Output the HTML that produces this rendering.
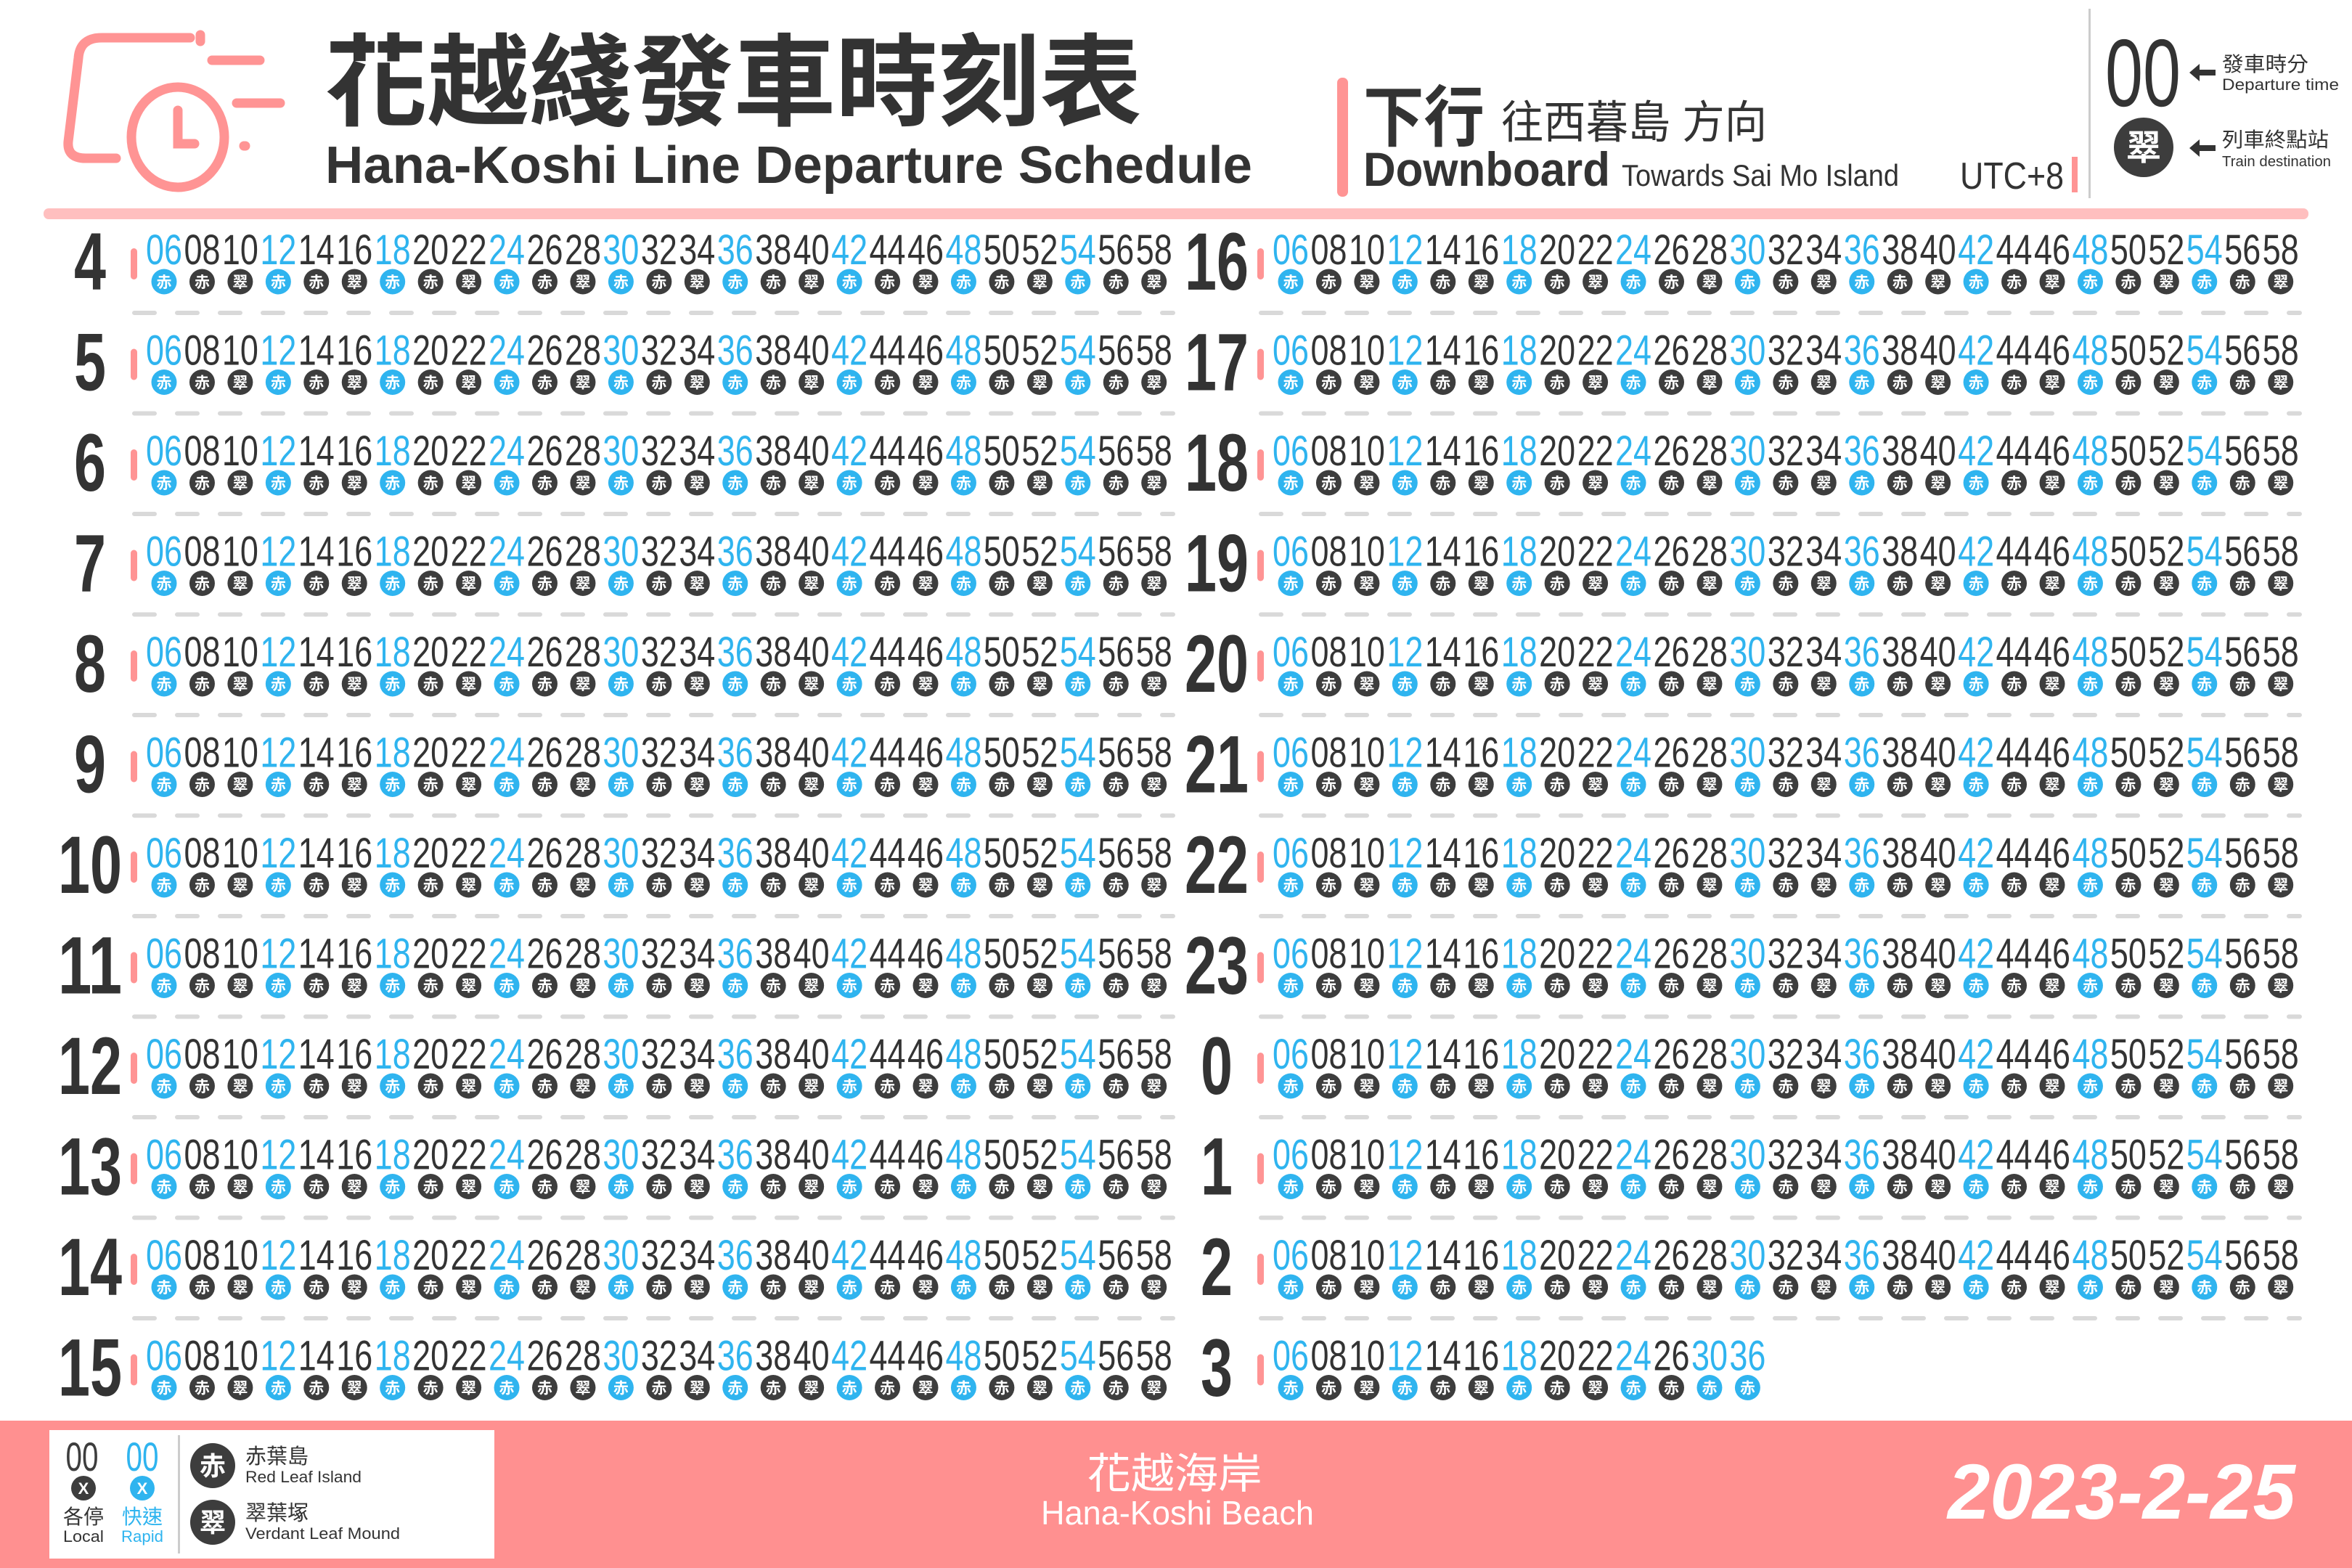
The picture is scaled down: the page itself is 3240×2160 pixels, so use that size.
<!DOCTYPE html>
<html><head><meta charset="utf-8"><style>
html,body{margin:0;padding:0;background:#fff}
svg{display:block}
text{font-family:"Liberation Sans","Noto Sans CJK TC",sans-serif}
</style></head><body>
<svg id="s" width="3240" height="2160" viewBox="0 0 3240 2160" xmlns="http://www.w3.org/2000/svg">
<rect width="3240" height="2160" fill="#fff"/>
<g fill="none" stroke="#ff9494" stroke-width="13" stroke-linecap="round">
<path d="M262 52 L140 52 Q110 52 108 80 L94 195 Q92 218 118 218 L160 218"/>
<line x1="276" y1="48" x2="276" y2="57"/>
<line x1="292" y1="83" x2="358" y2="83"/>
<line x1="326" y1="142" x2="386" y2="142"/>
<line x1="336" y1="201" x2="338" y2="201"/>
<ellipse cx="245" cy="189" rx="64" ry="69"/>
<path d="M245 152 L245 198 L268 198"/>
</g>
<text x="448" y="162" font-size="138" font-weight="bold" fill="#333" textLength="1125" lengthAdjust="spacingAndGlyphs">花越綫發車時刻表</text>
<text x="448" y="252" font-size="72" font-weight="bold" fill="#333" textLength="1277" lengthAdjust="spacingAndGlyphs">Hana-Koshi Line Departure Schedule</text>
<rect x="1842" y="107" width="15" height="164" rx="7" fill="#ff9494"/>
<text x="1878" y="194" font-size="92" font-weight="bold" fill="#333" textLength="167" lengthAdjust="spacingAndGlyphs">下行</text>
<text x="2068" y="190" font-size="62" fill="#333" textLength="366" lengthAdjust="spacingAndGlyphs">往西暮島 方向</text>
<text x="1878" y="256" font-size="66" font-weight="bold" fill="#333" textLength="340" lengthAdjust="spacingAndGlyphs">Downboard</text>
<text x="2234" y="256" font-size="42" fill="#333" textLength="382" lengthAdjust="spacingAndGlyphs">Towards Sai Mo Island</text>
<text x="2700" y="260" font-size="52" fill="#333" textLength="143" lengthAdjust="spacingAndGlyphs">UTC+8</text>
<rect x="2854" y="216" width="8" height="49" fill="#ff9494"/>
<rect x="2877" y="12" width="3" height="261" fill="#ccc"/>
<text x="2900" y="146" font-size="132" fill="#333" textLength="104" lengthAdjust="spacingAndGlyphs">00</text>
<path d="M3016 100 L3030 88 L3030 96 L3052 96 L3052 104 L3030 104 L3030 112 Z" fill="#333"/>
<text x="3061" y="98" font-size="28" fill="#333" textLength="119" lengthAdjust="spacingAndGlyphs">發車時分</text>
<text x="3061" y="124" font-size="22" fill="#333" textLength="161" lengthAdjust="spacingAndGlyphs">Departure time</text>
<circle cx="2953" cy="203" r="41" fill="#3d3d3d"/>
<text x="2953" y="220" font-size="48" font-weight="bold" fill="#fff" text-anchor="middle">翠</text>
<path d="M3016 204 L3030 192 L3030 200 L3052 200 L3052 208 L3030 208 L3030 216 Z" fill="#333"/>
<text x="3061" y="202" font-size="28" fill="#333" textLength="147" lengthAdjust="spacingAndGlyphs">列車終點站</text>
<text x="3061" y="229" font-size="20" fill="#333" textLength="150" lengthAdjust="spacingAndGlyphs">Train destination</text>
<rect x="60" y="287" width="3120" height="15" rx="7" fill="#ffbfbf"/>
<g id="rows"></g>
<rect x="0" y="1957" width="3240" height="203" fill="#ff9090"/>
<rect x="68" y="1970" width="613" height="177" fill="#fff"/>
<text x="113" y="2026" font-size="56" fill="#3d3d3d" text-anchor="middle" textLength="45" lengthAdjust="spacingAndGlyphs">00</text>
<text x="196" y="2026" font-size="56" fill="#2fb4ef" text-anchor="middle" textLength="45" lengthAdjust="spacingAndGlyphs">00</text>
<circle cx="115" cy="2050" r="17" fill="#3d3d3d"/>
<circle cx="196" cy="2050" r="17" fill="#2fb4ef"/>
<text x="115" y="2058" font-size="22" font-weight="bold" fill="#fff" text-anchor="middle">X</text>
<text x="196" y="2058" font-size="22" font-weight="bold" fill="#fff" text-anchor="middle">X</text>
<text x="115" y="2099" font-size="28" fill="#333" text-anchor="middle">各停</text>
<text x="196" y="2099" font-size="28" fill="#2fb4ef" text-anchor="middle">快速</text>
<text x="115" y="2124" font-size="22" fill="#333" text-anchor="middle" textLength="56" lengthAdjust="spacingAndGlyphs">Local</text>
<text x="196" y="2124" font-size="22" fill="#2fb4ef" text-anchor="middle" textLength="58" lengthAdjust="spacingAndGlyphs">Rapid</text>
<rect x="245" y="1977" width="3" height="163" fill="#ccc"/>
<circle cx="293" cy="2019" r="31" fill="#3d3d3d"/>
<text x="293" y="2032" font-size="36" font-weight="bold" fill="#fff" text-anchor="middle">赤</text>
<circle cx="293" cy="2097" r="31" fill="#3d3d3d"/>
<text x="293" y="2110" font-size="36" font-weight="bold" fill="#fff" text-anchor="middle">翠</text>
<text x="338" y="2016" font-size="29" fill="#333">赤葉島</text>
<text x="338" y="2042" font-size="22" fill="#333" textLength="160" lengthAdjust="spacingAndGlyphs">Red Leaf Island</text>
<text x="338" y="2094" font-size="29" fill="#333">翠葉塚</text>
<text x="338" y="2120" font-size="22" fill="#333" textLength="213" lengthAdjust="spacingAndGlyphs">Verdant Leaf Mound</text>
<text x="1618" y="2050" font-size="58" fill="#fff" text-anchor="middle" textLength="241" lengthAdjust="spacingAndGlyphs">花越海岸</text>
<text x="1622" y="2100" font-size="46" fill="#fff" text-anchor="middle" textLength="376" lengthAdjust="spacingAndGlyphs">Hana-Koshi Beach</text>
<text x="2683" y="2092" font-size="108" font-weight="bold" font-style="italic" fill="#fff" textLength="479" lengthAdjust="spacingAndGlyphs">2023-2-25</text>
</svg>
<script>
const hoursLeft = [4,5,6,7,8,9,10,11,12,13,14,15];
const hoursRight = [16,17,18,19,20,21,22,23,0,1,2,3];
const minutesFull = ["06","08","10","12","14","16","18","20","22","24","26","28","30","32","34","36","38","40","42","44","46","48","50","52","54","56","58"];
const rapidFull = [1,0,0,1,0,0,1,0,0,1,0,0,1,0,0,1,0,0,1,0,0,1,0,0,1,0,0];
const destFull = ["赤","赤","翠","赤","赤","翠","赤","赤","翠","赤","赤","翠","赤","赤","翠","赤","赤","翠","赤","赤","翠","赤","赤","翠","赤","赤","翠"];
const minutesLast = ["06","08","10","12","14","16","18","20","22","24","26","30","36"];
const rapidLast = [1,0,0,1,0,0,1,0,0,1,0,1,1];
const destLast = ["赤","赤","翠","赤","赤","翠","赤","赤","翠","赤","赤","赤","赤"];

const NS = "http://www.w3.org/2000/svg";
const g = document.getElementById('rows');
const BLUE = "#2fb4ef", DARK = "#3d3d3d";
function mk(tag, attrs, parent){const e=document.createElementNS(NS,tag);for(const k in attrs)e.setAttribute(k,attrs[k]);parent.appendChild(e);return e;}
function rowY(i){return 364 + i*138.5;}
function minX(col,j){return 226 + col*1552 + j*52.45;}

function drawRow(col, i, hour, mins, rapid, dest, last){
  const y = rowY(i);
  const row = mk('g', {}, g);
  
  
  const hx = 124 + col*1552;
  const ht = mk('text', {x:hx, y:y+35, 'font-size':112, 'font-weight':'bold', fill:'#333', 'text-anchor':'middle', textLength: String(hour).length*44, lengthAdjust:'spacingAndGlyphs'}, row);
  ht.textContent = hour;
  
  
  const tk = mk('rect', {x:180+col*1552, y:y-22, width:9, height:43, rx:4.5, fill:'#ff9494'}, row);
  
  
  for(let j=0;j<mins.length;j++){
    const cx = minX(col,j);
    const c = rapid[j] ? BLUE : DARK;
    const t = mk('text', {x:cx, y:y, 'font-size':58, fill: rapid[j]?BLUE:'#333', 'text-anchor':'middle', textLength:50, lengthAdjust:'spacingAndGlyphs'}, row);
    t.textContent = mins[j];
    
    
    const ci = mk('circle', {cx:cx, cy:y+24, r:17.5, fill:c}, row);
    
    
    const dt = mk('text', {x:cx, y:y+32, 'font-size':21, 'font-weight':'bold', fill:'#fff', 'text-anchor':'middle'}, row);
    dt.textContent = dest[j];
  }
  if(!last){
    const x0 = 182 + col*1552;
    const dl = mk('line', {x1:x0+3, y1:y+67, x2:x0+1434, y2:y+67, stroke:'#d9d9d9', 'stroke-width':6, 'stroke-linecap':'round', 'stroke-dasharray':'28 31'}, row);
    
    
  }
}
hoursLeft.forEach((h,i)=>drawRow(0,i,h,minutesFull,rapidFull,destFull,i===hoursLeft.length-1));
hoursRight.forEach((h,i)=>{
  const isLast = i===hoursRight.length-1;
  if(isLast) drawRow(1,i,h,minutesLast,rapidLast,destLast,true);
  else drawRow(1,i,h,minutesFull,rapidFull,destFull,false);
});
</script>
</body></html>
